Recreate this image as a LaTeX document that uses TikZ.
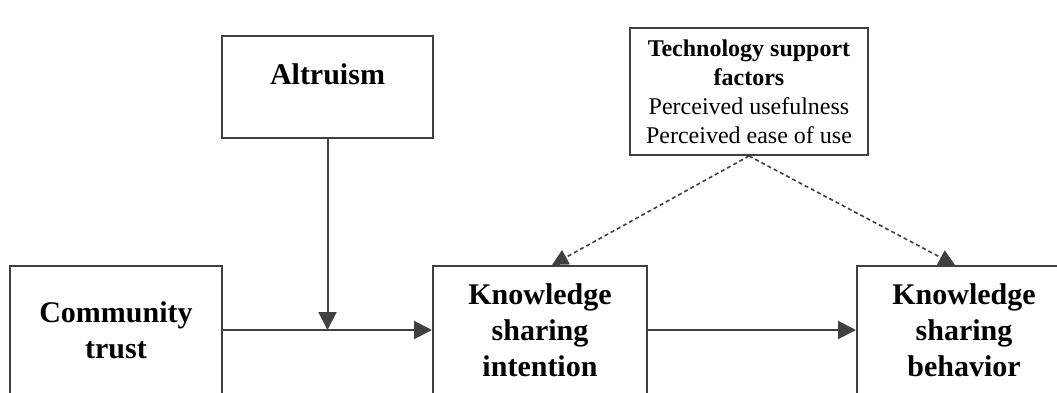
\documentclass[tikz,border=0pt]{standalone}
\usepackage{fontspec}
\setmainfont{Liberation Serif}
\usepackage{xcolor}
\usetikzlibrary{arrows.meta}

\definecolor{linegray}{HTML}{404040}

\begin{document}
\begin{tikzpicture}[
  x=0.5pt, y=-0.5pt,
  box/.style={draw=linegray, line width=1pt, align=center, inner sep=0pt,
    font=\fontsize{15}{18}\selectfont\bfseries},
  infobox/.style={draw=linegray, line width=1pt, align=center, inner sep=0pt,
    font=\fontsize{12}{14.5}\selectfont},
  arrow/.style={-{Triangle[length=9pt,width=9pt]}, draw=linegray, line width=1pt},
  dasharrow/.style={-{Triangle[length=8pt,width=8pt]}, draw=linegray, line width=0.8pt,
    dash pattern=on 2pt off 1.5pt}
]
\clip (0,0) rectangle (1057,392);

\node[box, minimum width=105.5pt, minimum height=51pt, text depth=13pt] (alt) at (327.5,87) {Altruism};
\node[infobox, minimum width=119pt, minimum height=63.5pt] (tech) at (749,91.5)
  {\textbf{Technology support}\\\textbf{factors}\\Perceived usefulness\\Perceived ease of use};
\node[box, minimum width=106pt, minimum height=64pt] (ct) at (116,330) {Community\\trust};
\node[box, minimum width=107pt, minimum height=64pt] (ksi) at (540,330) {Knowledge\\sharing\\intention};
\node[box, minimum width=107pt, minimum height=64pt] (ksb) at (964,330) {Knowledge\\sharing\\behavior};

\coordinate (mod) at (alt.south |- ct.east);

\draw[arrow] (ct) -- (ksi);
\draw[arrow] (alt) -- (mod);
\draw[arrow] (ksi) -- (ksb);
\draw[dasharrow] (tech.south) -- ([xshift=6pt]ksi.north);
\draw[dasharrow] (tech.south) -- ([xshift=-4.5pt]ksb.north);
\end{tikzpicture}
\end{document}
